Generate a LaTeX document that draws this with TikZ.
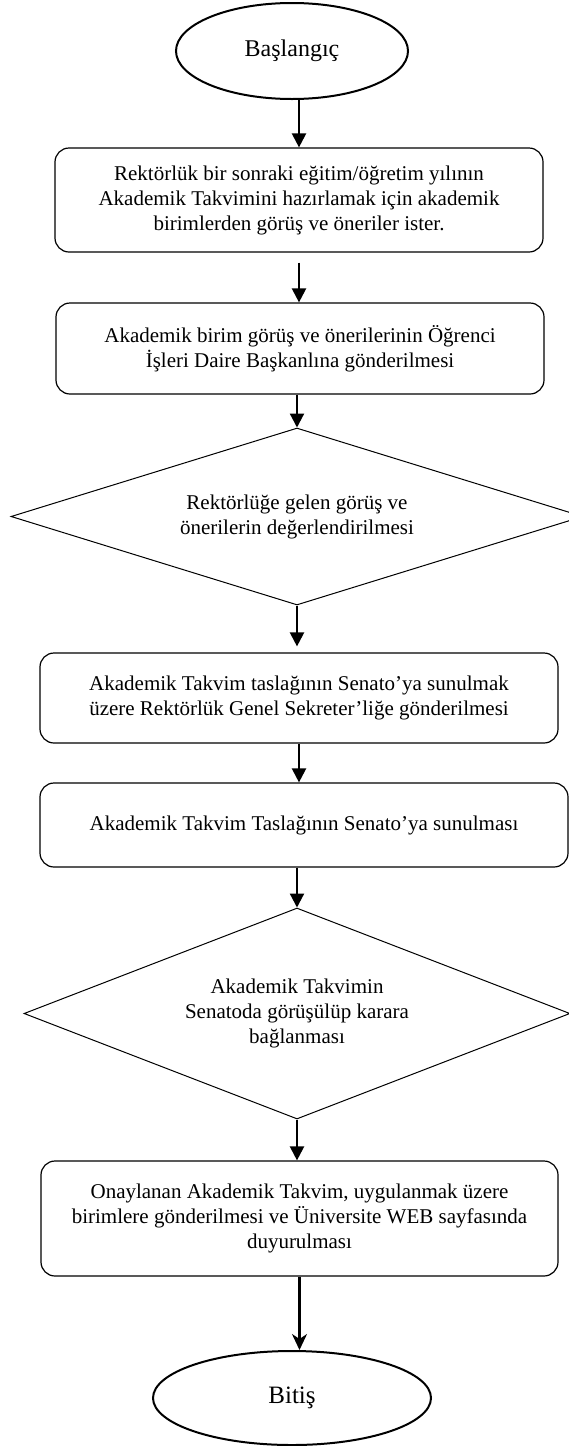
\documentclass[tikz,border=0pt]{standalone}
\usepackage{fontspec}
\setmainfont{Liberation Serif}
\usetikzlibrary{positioning,shapes.geometric,arrows.meta}

\begin{document}
\begin{tikzpicture}[x=1pt,y=-1pt,
	terminal/.style={draw,ellipse,line width=2pt,inner sep=0pt},
	stepbox/.style={draw,rounded corners=14pt,line width=1.2pt,align=center,inner sep=0pt,font=\fontsize{21}{25}\selectfont},
	decision/.style={draw,diamond,line width=1pt,align=center,inner sep=0pt,font=\fontsize{21}{25}\selectfont},
	flow/.style={line width=2.2pt,-{Triangle[width=14pt,length=14pt]}}]
		\useasboundingbox (0,0) rectangle (569,1446);
		% start and end
		\node[terminal,minimum width=232pt,minimum height=96pt,font=\fontsize{24}{28}\selectfont] (nodeStart) at (292,51) {Başlangıç};
		\node[terminal,minimum width=278pt,minimum height=94pt,font=\fontsize{25}{29}\selectfont] (nodeStop) at (292,1398) {Bitiş};
		% steps
		\node[stepbox,minimum width=488pt,minimum height=104pt] (boxOne) at (299,200) {Rektörlük bir sonraki eğitim/öğretim yılının\\Akademik Takvimini hazırlamak için akademik\\birimlerden görüş ve öneriler ister.};
		\node[stepbox,minimum width=488pt,minimum height=91pt] (boxTwo) at (300,348.5) {Akademik birim görüş ve önerilerinin Öğrenci\\İşleri Daire Başkanlına gönderilmesi};
		\node[stepbox,minimum width=518pt,minimum height=90pt] (boxThree) at (299,698) {Akademik Takvim taslağının Senato’ya sunulmak\\üzere Rektörlük Genel Sekreter’liğe gönderilmesi};
		\node[stepbox,minimum width=528pt,minimum height=84pt] (boxFour) at (304,825) {Akademik Takvim Taslağının Senato’ya sunulması};
		\node[stepbox,minimum width=517pt,minimum height=115pt] (boxFive) at (299.5,1218.5) {Onaylanan Akademik Takvim, uygulanmak üzere\\birimlere gönderilmesi ve Üniversite WEB sayfasında\\duyurulması};
		% decisions
		\node[decision,shape aspect=3.2,minimum width=572pt,minimum height=177pt] (decOne) at (297,516.5) {Rektörlüğe gelen görüş ve\\önerilerin değerlendirilmesi};
		\node[decision,shape aspect=2.6,minimum width=546pt,minimum height=211pt] (decTwo) at (297,1013.5) {Akademik Takvimin\\Senatoda görüşülüp karara\\bağlanması};
		% arrows
		\draw[flow] (boxOne.north |- nodeStart.south) -- (boxOne.north);
		\draw[flow,shorten <=10pt] (boxOne.south) -- (boxOne.south |- boxTwo.north);
		\draw[flow] (decOne.north |- boxTwo.south) -- (decOne.north);
		\draw[flow,shorten >=6pt] (decOne.south) -- (decOne.south |- boxThree.north);
		\draw[flow] (boxThree.south) -- (boxThree.south |- boxFour.north);
		\draw[flow] (decTwo.north |- boxFour.south) -- (decTwo.north);
		\draw[flow] (decTwo.south) -- (decTwo.south |- boxFive.north);
		\draw[line width=2.2pt,-{Stealth[width=15pt,length=16pt,inset=5pt]}] (boxFive.south) -- (boxFive.south |- nodeStop.north);
\end{tikzpicture}
\end{document}
